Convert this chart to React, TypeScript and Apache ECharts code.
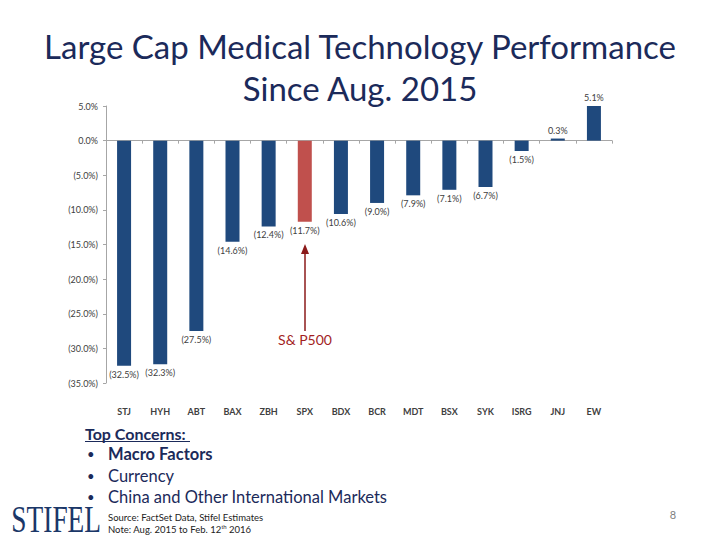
import React, { useEffect, useRef } from "react";
import * as echarts from "echarts";

const categories = ["STJ", "HYH", "ABT", "BAX", "ZBH", "SPX", "BDX", "BCR", "MDT", "BSX", "SYK", "ISRG", "JNJ", "EW"];
const values = [-32.5, -32.3, -27.5, -14.6, -12.4, -11.7, -10.6, -9.0, -7.9, -7.1, -6.7, -1.5, 0.3, 5.1];
const highlight = "SPX";
const titleLines = ["Large Cap Medical Technology Performance", "Since Aug. 2015"];
const concerns = ["Macro Factors", "Currency", "China and Other International Markets"];

const NAVY = "#1F497D";
const RED = "#C0504D";
const TITLE = "#1B2A5A";
const FONT = "Lato, 'Open Sans', sans-serif";

const fmt = (v: number) => (v < 0 ? `(${(-v).toFixed(1)}%)` : `${v.toFixed(1)}%`);

export default function App() {
  const ref = useRef<HTMLDivElement>(null);
  useEffect(() => {
    document.body.style.margin = "0";
    const chart = echarts.init(ref.current!, null, { renderer: "svg" });
    chart.setOption({
      animation: false,
      backgroundColor: "#ffffff",
      textStyle: { fontFamily: FONT },
      grid: { left: 106, right: 108, top: 106, bottom: 157 },
      xAxis: [
        {
          type: "category",
          data: categories,
          axisLine: { onZero: true, lineStyle: { color: "#A6A6A6", width: 1 } },
          axisTick: { show: true, length: 3, inside: false, lineStyle: { color: "#A6A6A6" } },
          axisLabel: { show: false },
        },
        {
          type: "category",
          data: categories,
          position: "bottom",
          offset: 0,
          axisLine: { show: false },
          axisTick: { show: false },
          axisLabel: { margin: 24, fontSize: 9, fontWeight: "bold", color: "#404040", fontFamily: FONT },
        },
      ],
      yAxis: {
        type: "value",
        min: -35,
        max: 5,
        interval: 5,
        splitLine: { show: false },
        axisLine: { show: true, lineStyle: { color: "#A6A6A6" } },
        axisTick: { show: true, length: 3, lineStyle: { color: "#A6A6A6" } },
        axisLabel: { formatter: fmt, fontSize: 9, color: "#404040", margin: 8, fontFamily: FONT },
      },
      series: [
        {
          type: "bar",
          xAxisIndex: 0,
          barWidth: 14,
          data: values.map((v, i) => ({
            value: v,
            itemStyle: { color: categories[i] === highlight ? RED : NAVY },
            label: { position: v < 0 ? "bottom" : "top" },
          })),
          label: {
            show: true,
            formatter: (p: any) => fmt(p.value),
            fontSize: 9,
            color: "#404040",
            distance: 4,
            fontFamily: FONT,
          },
        },
      ],
      graphic: [
        ...titleLines.map((t, i) => ({
          type: "text",
          x: 360,
          y: 46 + i * 42,
          style: {
            text: t,
            font: `33px ${FONT}`,
            fill: TITLE,
            align: "center",
            verticalAlign: "middle",
          },
        })),
        {
          type: "line",
          shape: { x1: 305, y1: 331, x2: 305, y2: 252 },
          style: { stroke: "#8B1A1A", lineWidth: 1.5 },
        },
        {
          type: "polygon",
          shape: { points: [[305, 244], [301, 254], [309, 254]] },
          style: { fill: "#8B1A1A" },
        },
        {
          type: "text",
          x: 305,
          y: 339,
          style: { text: "S& P500", font: `14px ${FONT}`, fill: "#A31F1F", align: "center", verticalAlign: "middle" },
        },
        {
          type: "text",
          x: 85,
          y: 433,
          style: { text: "Top Concerns:", font: `bold 16px ${FONT}`, fill: TITLE, verticalAlign: "middle" },
        },
        {
          type: "line",
          shape: { x1: 85, y1: 441.5, x2: 190, y2: 441.5 },
          style: { stroke: TITLE, lineWidth: 1 },
        },
        ...concerns.flatMap((c, i) => [
          {
            type: "text",
            x: 87,
            y: 454 + i * 21.5,
            style: { text: "•", font: `13px ${FONT}`, fill: TITLE, verticalAlign: "middle" },
          },
          {
            type: "text",
            x: 108,
            y: 454 + i * 21.5,
            style: { text: c, font: `${i === 0 ? "bold " : ""}16.5px ${FONT}`, fill: TITLE, verticalAlign: "middle" },
          },
        ]),
        {
          type: "text",
          x: 9,
          y: 519,
          scaleX: 0.74,
          originX: 9,
          originY: 519,
          style: { text: "STIFEL", font: `37px 'Liberation Serif', 'DejaVu Serif', serif`, fill: "#1B3768", verticalAlign: "middle" },
        },
        {
          type: "text",
          x: 108,
          y: 517,
          style: { text: "Source: FactSet Data, Stifel Estimates", font: `9.5px ${FONT}`, fill: "#222222", verticalAlign: "middle" },
        },
        {
          type: "text",
          x: 108,
          y: 529,
          style: {
            text: "Note: Aug. 2015 to Feb. 12{sup|th} 2016",
            font: `9.5px ${FONT}`,
            fill: "#222222",
            verticalAlign: "middle",
            rich: { sup: { fontSize: 6, verticalAlign: "top", padding: [0, 0, 4, 0], fill: "#222222" } },
          },
        },
        {
          type: "text",
          x: 673,
          y: 514,
          style: { text: "8", font: `11px ${FONT}`, fill: "#7F7F7F", verticalAlign: "middle", align: "center" },
        },
      ],
    });
    return () => chart.dispose();
  }, []);
  return <div ref={ref} style={{ width: 720, height: 540 }} />;
}
